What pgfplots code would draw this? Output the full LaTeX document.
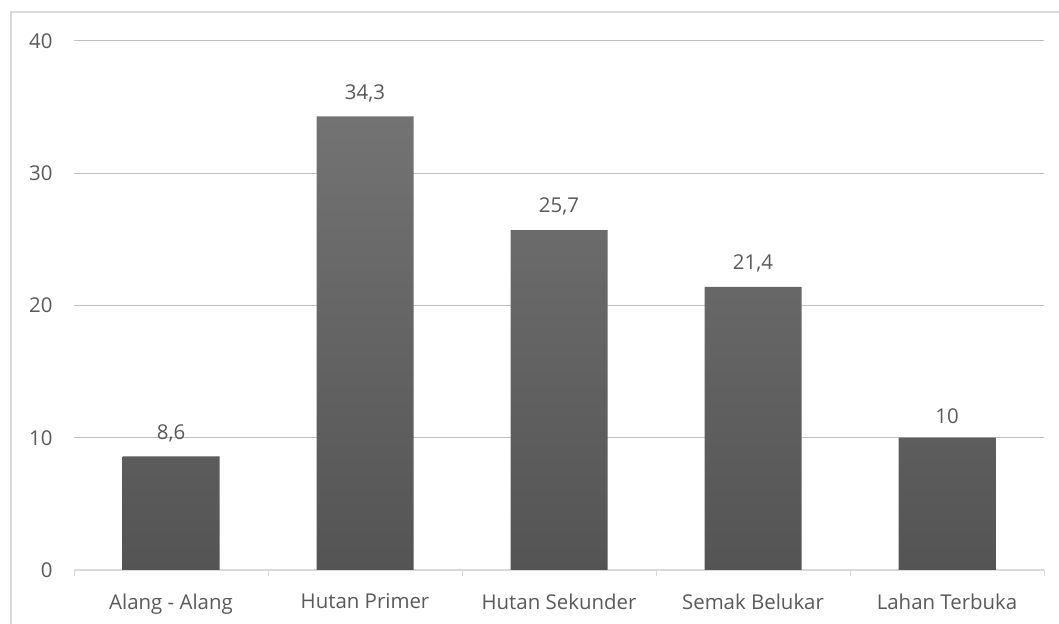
\documentclass[border=0pt]{standalone}
\usepackage{pgfplots}
\pgfplotsset{compat=1.18}
\usepackage{fontspec}
\setmainfont{Open Sans}
\definecolor{txt}{HTML}{595959}
\definecolor{grid}{HTML}{D9D9D9}
\definecolor{bartop}{HTML}{737373}
\definecolor{barbot}{HTML}{545454}
\begin{document}
\begin{tikzpicture}[x=1bp,y=1bp]
\useasboundingbox (0,0) rectangle (1059,624);
\draw[grid, line width=2bp] (11,-20) -- (11,612) -- (1080,612);
\begin{axis}[
  at={(74bp,54bp)}, anchor=south west,
  scale only axis, width=970bp, height=529bp,
  xmin=-0.5, xmax=4.5, ymin=0, ymax=40,
  xtick={-0.5,0.5,1.5,2.5,3.5,4.5},
  x tick label as interval,
  xticklabels={Alang - Alang, Hutan Primer, Hutan Sekunder, Semak Belukar, Lahan Terbuka},
  ytick={0,10,20,30,40},
  xmajorgrids=false, ymajorgrids=true, grid style={grid, line width=1bp},
  axis x line*=bottom, axis y line*=left,
  y axis line style={draw=none},
  x axis line style={grid, line width=1.2bp, -},
  major x tick style={draw=grid, line width=1bp},
  x tick style={draw=grid},
  xtick align=outside, major tick length=6bp,
  major y tick style={draw=none},
  tick label style={font=\fontsize{20.5}{24}\selectfont, text=txt},
  /pgf/number format/assume math mode=true,
  yticklabel style={xshift=-18bp},
  xticklabel style={yshift=-14bp},
  clip=false,
]
\addplot[ybar, bar width=97bp, draw=none, top color=bartop, bottom color=barbot,
  nodes near coords, /pgf/number format/use comma,
  nodes near coords style={font=\fontsize{20.5}{24}\selectfont, text=txt, yshift=11bp}]
  coordinates {(0,8.6) (1,34.3) (2,25.7) (3,21.4) (4,10)};
\end{axis}
\end{tikzpicture}
\end{document}
